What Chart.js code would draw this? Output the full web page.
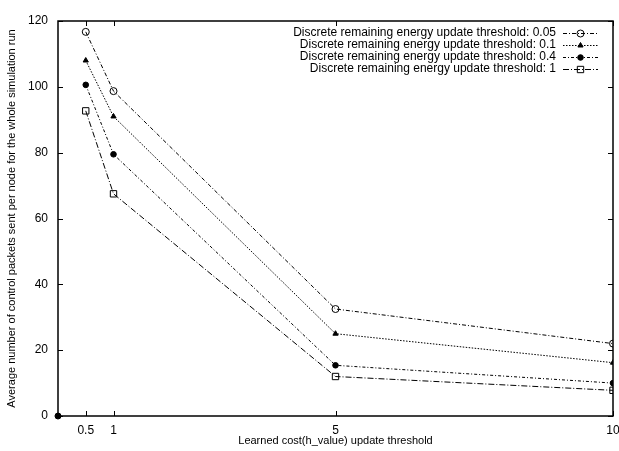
<!DOCTYPE html>
<html>
<head>
<meta charset="utf-8">
<script src="https://cdn.jsdelivr.net/npm/chart.js@4.4.1/dist/chart.umd.min.js"></script>
<style>
  html, body { margin: 0; padding: 0; background: #fff; }
</style>
</head>
<body>
<canvas id="chart" width="619" height="451"></canvas>
<script>
// x values (learned cost update threshold)
const xValues = [0.5, 1, 5, 10];
const xTicks = [0.5, 1, 5, 10];
const yTicks = [0, 20, 40, 60, 80, 100, 120];

const seriesLabels = [
    'Discrete remaining energy update threshold: 0.05',
    'Discrete remaining energy update threshold: 0.1',
    'Discrete remaining energy update threshold: 0.4',
    'Discrete remaining energy update threshold: 1'
];
const valuesT005 = [116.7, 98.7, 32.5, 22.0];
const valuesT01 = [108.0, 91.0, 25.0, 16.2];
const valuesT04 = [100.6, 79.5, 15.4, 10.0];
const valuesT1 = [92.7, 67.5, 12.0, 7.8];

// lone point at the origin
const originX = [0];
const originY = [0];

const toPoints = (xs, ys) => xs.map((x, i) => ({ x: x, y: ys[i] }));

const ctx = document.getElementById('chart').getContext('2d');

// ticks pointing inward on all four sides + the frame
const frameTicks = {
    id: 'frameTicks',
    afterDraw(chart) {
        const c = chart.ctx;
        const a = chart.chartArea;
        const xs = chart.scales.x;
        const ys = chart.scales.y;
        const len = 5;
        c.save();
        c.strokeStyle = '#000';
        c.lineWidth = 1;
        c.beginPath();
        xTicks.forEach(v => {
            const px = Math.round(xs.getPixelForValue(v)) + 0.5;
            c.moveTo(px, a.bottom); c.lineTo(px, a.bottom - len);
            c.moveTo(px, a.top); c.lineTo(px, a.top + len);
        });
        yTicks.forEach(v => {
            const py = Math.round(ys.getPixelForValue(v)) + 0.5;
            c.moveTo(a.left, py); c.lineTo(a.left + len, py);
            c.moveTo(a.right, py); c.lineTo(a.right - len, py);
        });
        c.stroke();
        c.lineWidth = 1.5;
        c.strokeRect(a.left, a.top, a.right - a.left, a.bottom - a.top);
        c.restore();
    }
};

// gnuplot style key: text right aligned, sample on the right
const keyPlugin = {
    id: 'keyPlugin',
    afterDraw(chart) {
        const c = chart.ctx;
        const textRight = 556;
        const sampleLeft = 563;
        const sampleRight = 598;
        const rowTop = 33;
        const rowStep = 12;
        c.save();
        c.font = '12px "Liberation Sans", Arial, sans-serif';
        c.textAlign = 'right';
        c.textBaseline = 'middle';
        seriesLabels.forEach((label, i) => {
            const ds = chart.data.datasets[i];
            const y = rowTop + i * rowStep;
            c.fillStyle = '#000';
            c.fillText(label, textRight, y);
            c.beginPath();
            c.setLineDash(ds.borderDash);
            c.strokeStyle = '#000';
            c.lineWidth = 1;
            c.moveTo(sampleLeft, y + 0.5);
            c.lineTo(sampleRight, y + 0.5);
            c.stroke();
            c.setLineDash([]);
            c.fillStyle = ds.pointBackgroundColor;
            c.strokeStyle = '#000';
            Chart.helpers.drawPoint(c, {
                pointStyle: ds.pointStyle,
                radius: ds.pointRadius,
                borderWidth: 1
            }, (sampleLeft + sampleRight) / 2, y + 0.5);
        });
        c.restore();
    }
};

const baseFont = { family: '"Liberation Sans", Arial, sans-serif' };

const chart = new Chart(ctx, {
    type: 'line',
    data: {
        datasets: [
            {
                label: seriesLabels[0],
                data: toPoints(xValues, valuesT005),
                borderColor: '#000',
                borderWidth: 1,
                borderDash: [4, 2, 1, 2],
                pointStyle: 'circle',
                pointRadius: 3.5,
                pointBorderColor: '#000',
                pointBackgroundColor: 'rgba(0,0,0,0)',
                pointBorderWidth: 1
            },
            {
                label: seriesLabels[1],
                data: toPoints(xValues, valuesT01),
                borderColor: '#000',
                borderWidth: 1,
                borderDash: [1.5, 1.5],
                pointStyle: 'triangle',
                pointRadius: 3,
                pointBorderColor: '#000',
                pointBackgroundColor: '#000',
                pointBorderWidth: 1
            },
            {
                label: seriesLabels[2],
                data: toPoints(xValues, valuesT04),
                borderColor: '#000',
                borderWidth: 1,
                borderDash: [3, 2, 1, 2],
                pointStyle: 'circle',
                pointRadius: 2.8,
                pointBorderColor: '#000',
                pointBackgroundColor: '#000',
                pointBorderWidth: 1
            },
            {
                label: seriesLabels[3],
                data: toPoints(xValues, valuesT1),
                borderColor: '#000',
                borderWidth: 1,
                borderDash: [6, 2, 1, 2],
                pointStyle: 'rect',
                pointRadius: 4.5,
                pointBorderColor: '#000',
                pointBackgroundColor: 'rgba(0,0,0,0)',
                pointBorderWidth: 1
            },
            {
                label: '',
                data: toPoints(originX, originY),
                showLine: false,
                pointStyle: 'circle',
                pointRadius: 3,
                pointBorderColor: '#000',
                pointBackgroundColor: '#000',
                clip: false
            }
        ]
    },
    options: {
        responsive: false,
        animation: false,
        layout: { padding: { top: 21, right: 6, left: 0, bottom: 0 } },
        plugins: {
            legend: { display: false },
            tooltip: { enabled: false }
        },
        scales: {
            x: {
                type: 'linear',
                min: 0,
                max: 10,
                grid: { display: false, drawTicks: false },
                border: { display: false },
                afterBuildTicks: (scale) => {
                    scale.ticks = xTicks.map(v => ({ value: v }));
                },
                afterFit: (scale) => {
                    scale.height = 35;
                    scale.paddingLeft = 0;
                    scale.paddingRight = 0;
                },
                ticks: {
                    color: '#000',
                    padding: 7,
                    maxRotation: 0,
                    autoSkip: false,
                    font: { ...baseFont, size: 12 }
                },
                title: {
                    display: true,
                    text: 'Learned cost(h_value) update threshold',
                    color: '#000',
                    font: { ...baseFont, size: 11 },
                    padding: { top: 0, bottom: 3 }
                }
            },
            y: {
                min: 0,
                max: 120,
                grid: { display: false, drawTicks: false },
                border: { display: false },
                afterBuildTicks: (scale) => {
                    scale.ticks = yTicks.map(v => ({ value: v }));
                },
                afterFit: (scale) => {
                    scale.width = 58;
                },
                ticks: {
                    color: '#000',
                    padding: 10,
                    font: { ...baseFont, size: 12 }
                },
                title: {
                    display: true,
                    text: 'Average number of control packets sent per node for the whole simulation run',
                    color: '#000',
                    font: { ...baseFont, size: 11 },
                    padding: { top: 5, bottom: 0 }
                }
            }
        }
    },
    plugins: [frameTicks, keyPlugin]
});
</script>
</body>
</html>
